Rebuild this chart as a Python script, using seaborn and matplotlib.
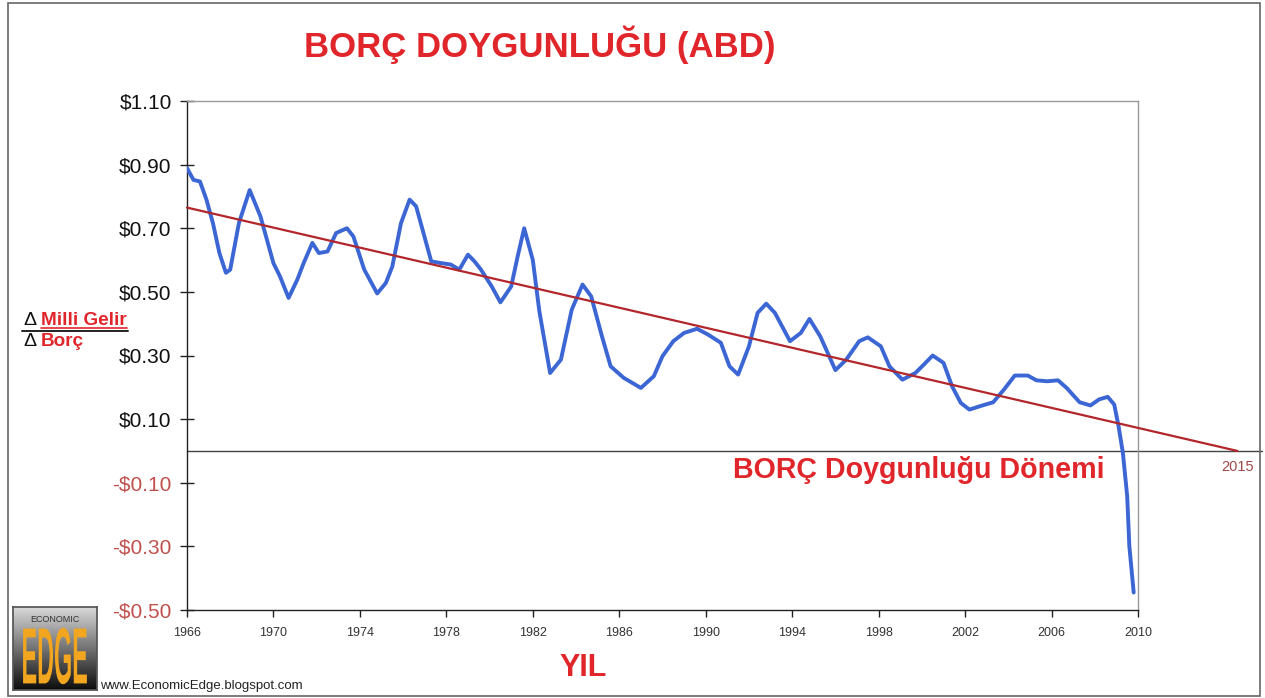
import numpy as np
import pandas as pd
import matplotlib.pyplot as plt
import seaborn as sns
from matplotlib.patches import Rectangle, PathPatch
from matplotlib.textpath import TextPath
from matplotlib.font_manager import FontProperties
from matplotlib.transforms import Affine2D
from matplotlib.lines import Line2D

# --- data ---
years = [1966.0, 1966.3, 1966.6, 1966.9, 1967.2, 1967.5, 1967.8, 1968.0, 1968.4, 1968.9,
         1969.4, 1970.0, 1970.3, 1970.7, 1971.1, 1971.4, 1971.8, 1972.1, 1972.5, 1972.9,
         1973.4, 1973.7, 1974.2, 1974.8, 1975.2, 1975.5, 1975.9, 1976.3, 1976.6, 1976.9,
         1977.3, 1977.7, 1978.2, 1978.6, 1979.0, 1979.3, 1979.6, 1980.1, 1980.5, 1981.0,
         1981.3, 1981.6, 1982.0, 1982.3, 1982.8, 1983.3, 1983.8, 1984.3, 1984.7, 1985.2,
         1985.6, 1986.2, 1987.0, 1987.6, 1988.0, 1988.5, 1989.0, 1989.6, 1990.1, 1990.7,
         1991.1, 1991.5, 1992.0, 1992.4, 1992.8, 1993.2, 1993.9, 1994.4, 1994.8, 1995.3,
         1996.0, 1996.5, 1997.1, 1997.5, 1998.1, 1998.5, 1999.1, 1999.7, 2000.1, 2000.5,
         2001.0, 2001.4, 2001.8, 2002.2, 2002.8, 2003.3, 2003.8, 2004.3, 2004.9, 2005.3,
         2005.8, 2006.3, 2006.7, 2007.3, 2007.8, 2008.2, 2008.6, 2008.9, 2009.1, 2009.3,
         2009.5, 2009.6, 2009.8]
ratio = [0.889, 0.852, 0.847, 0.790, 0.716, 0.622, 0.560, 0.570, 0.716, 0.820,
         0.737, 0.590, 0.549, 0.481, 0.538, 0.591, 0.654, 0.622, 0.627, 0.685,
         0.700, 0.674, 0.570, 0.495, 0.528, 0.580, 0.716, 0.790, 0.769, 0.695,
         0.596, 0.591, 0.586, 0.570, 0.617, 0.596, 0.570, 0.517, 0.467, 0.517,
         0.612, 0.700, 0.600, 0.440, 0.245, 0.287, 0.444, 0.523, 0.486, 0.360,
         0.266, 0.230, 0.198, 0.235, 0.298, 0.345, 0.371, 0.384, 0.366, 0.340,
         0.266, 0.240, 0.329, 0.434, 0.463, 0.434, 0.345, 0.371, 0.415, 0.360,
         0.254, 0.287, 0.345, 0.357, 0.329, 0.266, 0.224, 0.245, 0.272, 0.300,
         0.277, 0.203, 0.151, 0.130, 0.143, 0.153, 0.193, 0.237, 0.237, 0.222,
         0.219, 0.222, 0.198, 0.153, 0.143, 0.162, 0.170, 0.146, 0.078, -0.006,
         -0.142, -0.300, -0.445]

trend_years = [1966.0, 2014.6]
trend_vals = [0.765, 0.0]

xticks = list(range(1966, 2011, 4))
yticks = [-0.5, -0.3, -0.1, 0.1, 0.3, 0.5, 0.7, 0.9, 1.1]
ytick_labels = ["-$0.50", "-$0.30", "-$0.10", "$0.10", "$0.30", "$0.50", "$0.70", "$0.90", "$1.10"]

RED = "#e0262b"
NEG = "#c0504d"

sns.set_theme(style="white")
plt.rcParams['font.family'] = ['Liberation Sans', 'DejaVu Sans']

fig = plt.figure(figsize=(12.65, 6.98), dpi=100)
ax = fig.add_axes([187 / 1265, 1 - 610 / 698, 951 / 1265, 509 / 698])

df = pd.DataFrame({"year": years, "ratio": ratio})
tr = pd.DataFrame({"year": trend_years, "ratio": trend_vals})

sns.lineplot(data=df, x="year", y="ratio", ax=ax, color="#3b66d4", lw=2.8, zorder=3,
             solid_joinstyle="round", solid_capstyle="round")
sns.lineplot(data=tr, x="year", y="ratio", ax=ax, color="#b2262c", lw=1.6, zorder=4)
ax.lines[-1].set_clip_on(False)
ax.axhline(0, xmin=0, xmax=(1262 - 187) / 951, color="#444444", lw=1, clip_on=False, zorder=2)

ax.set_xlim(1966, 2010)
ax.set_ylim(-0.5, 1.1)
ax.set_xticks(xticks)
ax.set_xticklabels([str(y) for y in xticks], fontsize=9, color="#333333")
ax.set_yticks(yticks)
ax.set_yticklabels(ytick_labels, fontsize=15)
for lab, v in zip(ax.get_yticklabels(), yticks):
    lab.set_color(NEG if v < 0 else "#111111")
ax.set_xlabel("")
ax.set_ylabel("")
ax.tick_params(axis="y", direction="inout", length=10, width=1, color="#222222", pad=6, left=True)
ax.tick_params(axis="x", direction="out", length=5, width=1, color="#222222", pad=7, bottom=True)
for s in ["left", "bottom"]:
    ax.spines[s].set_color("#222222")
    ax.spines[s].set_linewidth(1)
for s in ["top", "right"]:
    ax.spines[s].set_color("#999999")
    ax.spines[s].set_linewidth(1)

# texts
fig.text(540 / 1265, 1 - 45 / 698, "BORÇ DOYGUNLUĞU (ABD)", color=RED, fontsize=25,
         fontweight="bold", ha="center", va="center")
fig.text(733 / 1265, 1 - 470 / 698, "BORÇ Doygunluğu Dönemi", color=RED, fontsize=20.6,
         fontweight="bold", ha="left", va="center")
ax.text(2014.6, -0.052, "2015", color="#a04848", fontsize=10.5, ha="center", va="center")
fig.text(583 / 1265, 1 - 668 / 698, "YIL", color=RED, fontsize=22,
         fontweight="bold", ha="center", va="center")

# fraction label
fig.text(23 / 1265, 1 - 325 / 698, "Δ", color="#111111", fontsize=14,
         ha="left", va="baseline")
fig.text(41 / 1265, 1 - 325 / 698, "Milli Gelir", color=RED, fontsize=13.6, fontweight="bold",
         ha="left", va="baseline")
fig.add_artist(Line2D([41 / 1265, 127 / 1265], [1 - 327.5 / 698] * 2, color=RED, lw=1.2,
                      transform=fig.transFigure))
fig.add_artist(Line2D([22 / 1265, 128 / 1265], [1 - 331 / 698] * 2, color="#222222", lw=1.4,
                      transform=fig.transFigure))
fig.text(23 / 1265, 1 - 346 / 698, "Δ", color="#111111", fontsize=14,
         ha="left", va="baseline")
fig.text(41 / 1265, 1 - 346 / 698, "Borç", color=RED, fontsize=13.6, fontweight="bold",
         ha="left", va="baseline")

fig.text(100 / 1265, 1 - 689 / 698, "www.EconomicEdge.blogspot.com", color="#222222",
         fontsize=9.5, ha="left", va="baseline")

# logo
lax = fig.add_axes([13 / 1265, 1 - 690 / 698, 84 / 1265, 83 / 698])
grad = np.linspace(0.85, 0.05, 100).reshape(-1, 1)
lax.imshow(grad, cmap="gray", vmin=0, vmax=1, aspect="auto", extent=[0, 1, 0, 1])
lax.text(0.5, 0.85, "ECONOMIC", fontsize=6.5, color="#333333", ha="center", va="center")
tp = TextPath((0, 0), "EDGE", size=1, prop=FontProperties(family="Liberation Sans", weight="bold"))
ext = tp.get_extents()
trans = Affine2D().translate(-ext.x0, -ext.y0).scale(0.76 / ext.width, 0.68 / ext.height).translate(0.12, 0.07)
lax.add_patch(PathPatch(trans.transform_path(tp), facecolor="#f2a51f", edgecolor="none"))
lax.set_xlim(0, 1)
lax.set_ylim(0, 1)
lax.set_xticks([])
lax.set_yticks([])
for s in lax.spines.values():
    s.set_color("#555555")

fig.add_artist(Rectangle((8 / 1265, 1 - 696 / 698), 1252 / 1265, 693 / 698, fill=False,
                         edgecolor="#666666", lw=1.2, transform=fig.transFigure))

fig.savefig("out.png", dpi=100)
